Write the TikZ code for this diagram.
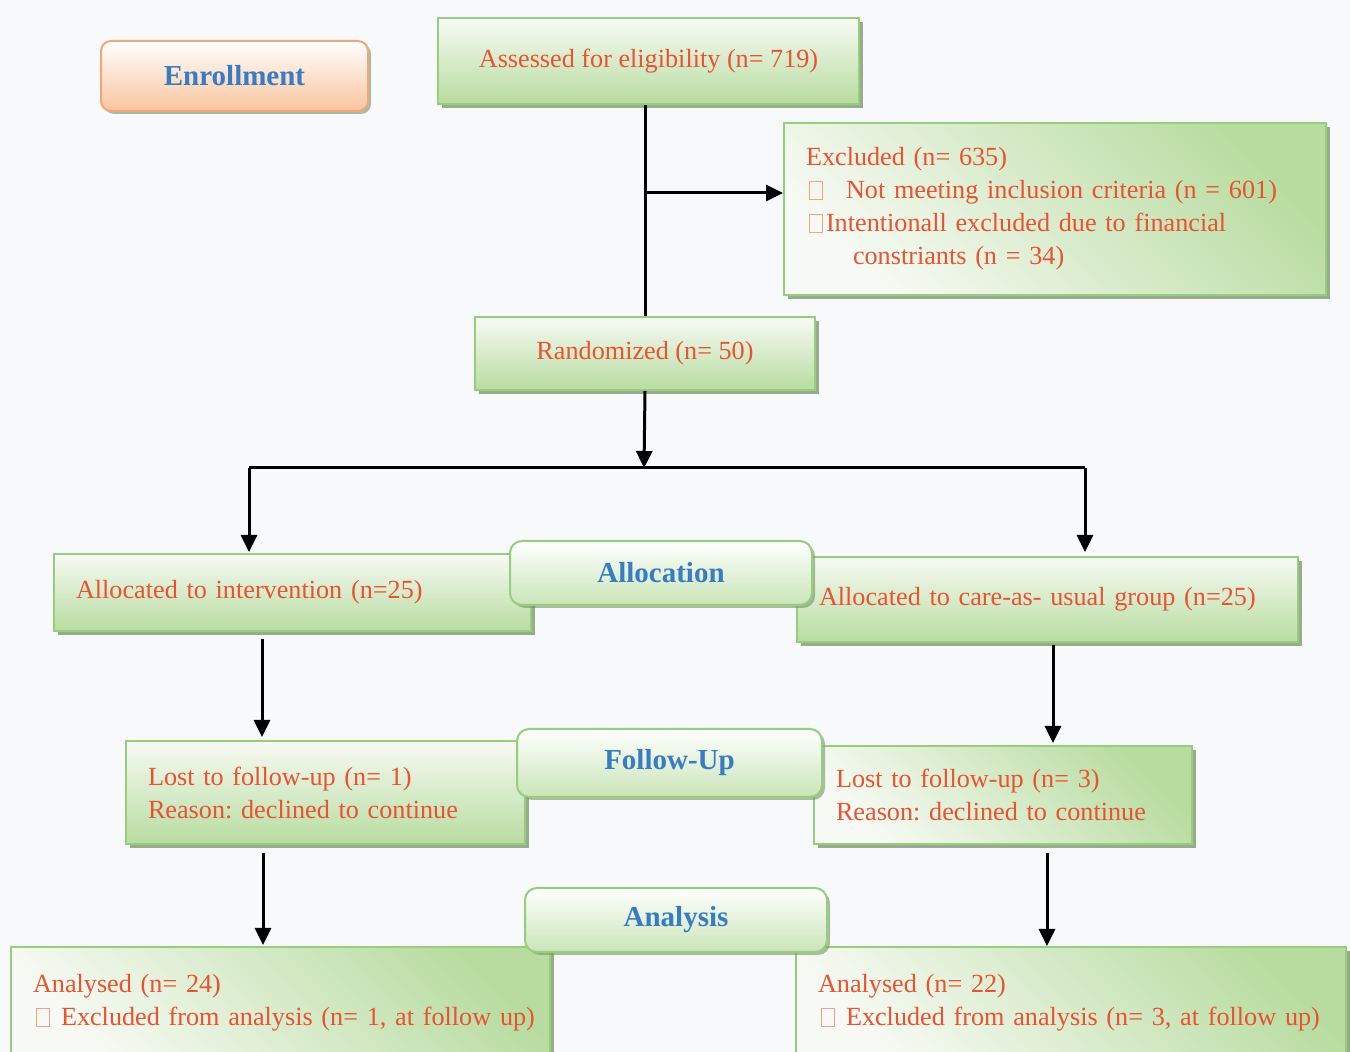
\documentclass[tikz,border=0pt]{standalone}
\usepackage{fontspec}
\setmainfont{Liberation Serif}
\usetikzlibrary{arrows.meta,positioning,shadows}
\definecolor{txtred}{RGB}{234,82,48}
\definecolor{txtblue}{RGB}{56,124,196}
\definecolor{boxline}{RGB}{150,206,125}
\definecolor{boxgreen}{RGB}{184,220,160}
\definecolor{boxpale}{RGB}{247,250,244}
\definecolor{shadegreen}{RGB}{120,146,104}
\definecolor{orangeline}{RGB}{240,168,120}
\definecolor{orangefill}{RGB}{249,196,158}
\definecolor{backgr}{RGB}{248,249,251}
\newcommand{\nbox}{{\color{txtred!55}\setlength{\fboxsep}{0pt}\setlength{\fboxrule}{0.5pt}\fbox{\rule{0pt}{8.5pt}\hspace{6pt}}}}
\frenchspacing

\begin{document}
\begin{tikzpicture}[x=0.5pt,y=-0.5pt,
greenbox/.style={rectangle, draw=boxline, line width=1pt, top color=boxpale, bottom color=boxgreen,
  drop shadow={shadow xshift=2pt, shadow yshift=-2pt, fill=shadegreen, opacity=.75},
  anchor=north west, text=txtred, font=\fontsize{13.1}{16.5}\selectfont},
greenboxup/.style={greenbox, shading angle=135},
textbox/.style={align=left, inner xsep=11pt},
labelbox/.style={rectangle, rounded corners=6pt, draw=boxline, line width=1pt, top color=white, bottom color=boxgreen!75,
  drop shadow={shadow xshift=1.5pt, shadow yshift=-1.5pt, fill=shadegreen, opacity=.6},
  anchor=north west, text=txtblue, font=\fontsize{14.5}{17}\selectfont\bfseries},
line/.style={line width=1.5pt},
arr/.style={line width=1.5pt, -{Triangle[width=8pt,length=8.5pt]}}]
\useasboundingbox (0,0) rectangle (1350,1052);
\fill[backgr] (0,0) rectangle (1350,1052);
% Nodes
\node[labelbox, draw=orangeline, bottom color=orangefill, rounded corners=5pt,
  minimum width=133.5pt, minimum height=35pt] (enrol) at (100,40) {Enrollment};
\node[greenbox, minimum width=210.5pt, minimum height=43pt] (assess) at (437,17) {Assessed for eligibility (n= 719)};
\node[greenboxup, textbox, text width=249pt, minimum height=86pt] (excl) at (783,122)
  {Excluded (n= 635)\\
   \hspace*{1.5pt}\nbox\hspace{11.5pt}Not meeting inclusion criteria (n = 601)\\
   \hspace*{1.5pt}\nbox\hspace{1.5pt}Intentionall excluded due to financial\\
   \hspace*{23.5pt}constriants (n = 34)};
\node[greenbox, minimum width=170pt, minimum height=36.5pt] (rand) at (474,316) {Randomized (n= 50)};
\node[greenbox, textbox, text width=216.5pt, minimum height=38.5pt] (allocl) at (53,553) {Allocated to intervention (n=25)};
\node[greenbox, textbox, text width=228.5pt, minimum height=42.5pt] (allocr) at (796,556) {Allocated to care-as- usual group (n=25)};
\node[greenbox, textbox, text width=177.5pt, minimum height=51.5pt] (lostl) at (125,740)
  {Lost to follow-up (n= 1)\\ Reason: declined to continue};
\node[greenboxup, textbox, text width=167pt, minimum height=49pt] (lostr) at (813,745)
  {Lost to follow-up (n= 3)\\ Reason: declined to continue};
\node[greenboxup, textbox, text width=247.5pt, minimum height=56pt] (anl) at (10,946)
  {Analysed (n= 24)\\ \mbox{\hspace*{1.5pt}\nbox\hspace{5.5pt}Excluded from analysis (n= 1, at follow up)}};
\node[greenboxup, textbox, text width=253pt, minimum height=56pt] (anr) at (795,946)
  {Analysed (n= 22)\\ \mbox{\hspace*{1.5pt}\nbox\hspace{5.5pt}Excluded from analysis (n= 3, at follow up)}};
\node[labelbox, minimum width=151pt, minimum height=32pt] (alloc) at (509,540) {Allocation};
\node[labelbox, minimum width=152.5pt, minimum height=34pt] (follow) at (516,728) {Follow-Up};
\node[labelbox, minimum width=151pt, minimum height=32pt] (analysis) at (524,887) {Analysis};
% Lines
\coordinate (br) at (644,193);
\coordinate (split) at (644,468);
\coordinate (sl) at (249,468);
\coordinate (sr) at (1085,468);
\coordinate (dl) at (262,0);
\coordinate (dr) at (1053,0);
\coordinate (el) at (263,0);
\coordinate (er) at (1047,0);
\draw[line] (assess.south -| rand.north) -- (rand.north);
\draw[arr] (br) -- (br -| excl.west);
\draw[arr] (rand.south) -- (split);
\draw[line] (sl) -- (sr);
\draw[arr] (sl) -- ([yshift=0.5pt]sl |- allocl.north);
\draw[arr] (sr) -- ([yshift=2pt]sr |- allocr.north);
\draw[arr] ([yshift=-3.5pt]allocl.south -| dl) -- ([yshift=1.5pt]lostl.north -| dl);
\draw[arr] ([yshift=-1pt]allocr.south -| dr) -- ([yshift=1pt]lostr.north -| dr);
\draw[arr] ([yshift=-4pt]lostl.south -| el) -- ([yshift=0.5pt]anl.north -| el);
\draw[arr] ([yshift=-4pt]lostr.south -| er) -- (anr.north -| er);
\end{tikzpicture}
\end{document}
